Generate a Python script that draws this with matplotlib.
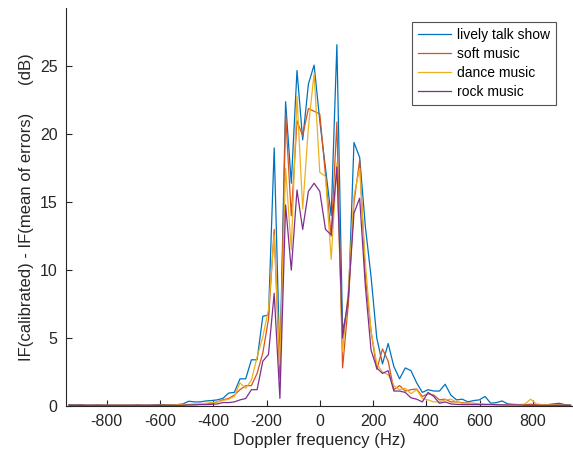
import numpy as np
import matplotlib
matplotlib.use("Agg")
import matplotlib.pyplot as plt

plt.rcParams['font.family'] = ['Liberation Sans', 'DejaVu Sans']
plt.rcParams['axes.unicode_minus'] = False

# Doppler bins (index k, spacing in Hz)
bin_index = np.arange(-44, 45)
bin_step_hz = 21.4
doppler_hz = bin_index * bin_step_hz

series_names = ["lively talk show", "soft music", "dance music", "rock music"]

lively_talk_show = [
    0.10, 0.08, 0.10, 0.05, 0.05, 0.08, 0.05, 0.05, 0.05, 0.05,
    0.05, 0.05, 0.08, 0.05, 0.05, 0.08, 0.10, 0.10,              # k=-44..-27
    0.10, 0.10, 0.15, 0.35, 0.30, 0.30, 0.37, 0.40, 0.45, 0.56,  # k=-26..-17
    0.95, 1.0, 2.0, 2.0, 3.4, 3.4, 6.6, 6.7,                     # k=-16..-9
    19.0, 3.0, 22.4, 16.4, 24.7, 19.6, 23.7, 25.1,               # k=-8..-1
    21.0, 17.5, 14.0, 26.6, 5.5, 7.5, 19.4, 18.3, 13.2, 9.5,     # k=0..9
    5.0, 3.1, 4.6, 2.9, 2.0, 2.8, 2.6, 1.7, 1.0, 1.2,            # k=10..19
    1.1, 1.1, 1.6, 0.8, 0.45, 0.5, 0.3, 0.4, 0.45, 0.7,          # k=20..29
    0.2, 0.25, 0.37, 0.15, 0.12, 0.10, 0.10, 0.12, 0.10, 0.10,   # k=30..39
    0.10, 0.15, 0.20, 0.10, 0.05,                                # k=40..44
]

soft_music = [
    0.05, 0.05, 0.05, 0.05, 0.05, 0.05, 0.05, 0.05, 0.05, 0.05,
    0.05, 0.05, 0.05, 0.05, 0.05, 0.05, 0.05, 0.05,              # k=-44..-27
    0.05, 0.05, 0.08, 0.08, 0.10, 0.12, 0.15, 0.20, 0.30, 0.45,  # k=-26..-17
    0.56, 0.8, 1.2, 1.5, 1.5, 2.4, 3.9, 6.4,                     # k=-16..-9
    13.0, 2.0, 21.5, 14.0, 21.0, 19.9, 21.9, 21.7,               # k=-8..-1
    21.5, 17.0, 12.5, 20.9, 2.8, 7.5, 15.0, 18.1, 9.5, 5.5,      # k=0..9
    2.7, 4.2, 3.3, 1.2, 1.5, 1.1, 1.2, 1.25, 0.7, 0.9,           # k=10..19
    0.8, 0.45, 0.5, 0.3, 0.3, 0.25, 0.2, 0.2, 0.15, 0.12,        # k=20..29
    0.12, 0.10, 0.10, 0.10, 0.10, 0.10, 0.10, 0.10, 0.10, 0.10,  # k=30..39
    0.10, 0.08, 0.08, 0.05, 0.05,                                # k=40..44
]

dance_music = [
    0.05, 0.05, 0.05, 0.05, 0.05, 0.05, 0.05, 0.05, 0.05, 0.05,
    0.05, 0.05, 0.05, 0.05, 0.05, 0.05, 0.05, 0.08,              # k=-44..-27
    0.08, 0.10, 0.10, 0.12, 0.15, 0.15, 0.20, 0.25, 0.30, 0.40,  # k=-26..-17
    0.5, 0.7, 1.7, 1.3, 1.9, 3.6, 5.1, 7.1,                      # k=-16..-9
    12.6, 3.0, 17.5, 11.5, 22.8, 14.5, 20.5, 24.5,               # k=-8..-1
    17.2, 16.9, 10.8, 17.9, 4.0, 8.5, 15.5, 17.5, 10.5, 5.5,     # k=0..9
    3.1, 2.5, 2.3, 1.5, 1.2, 1.3, 0.9, 1.2, 0.55, 0.45,          # k=10..19
    0.3, 0.3, 0.45, 0.5, 0.3, 0.2, 0.2, 0.15, 0.15, 0.12,        # k=20..29
    0.12, 0.10, 0.10, 0.10, 0.10, 0.10, 0.15, 0.5, 0.15, 0.10,   # k=30..39
    0.10, 0.08, 0.08, 0.05, 0.05,                                # k=40..44
]

rock_music = [
    0.05, 0.05, 0.05, 0.05, 0.05, 0.05, 0.05, 0.05, 0.05, 0.05,
    0.05, 0.05, 0.05, 0.05, 0.05, 0.05, 0.05, 0.05,              # k=-44..-27
    0.05, 0.05, 0.05, 0.08, 0.08, 0.10, 0.10, 0.12, 0.15, 0.25,  # k=-26..-17
    0.25, 0.3, 0.45, 0.55, 1.2, 1.2, 3.3, 3.8,                   # k=-16..-9
    8.3, 0.56, 14.8, 10.0, 15.9, 13.0, 15.8, 16.4,               # k=-8..-1
    15.8, 13.0, 12.6, 17.6, 5.0, 8.0, 14.2, 15.3, 8.8, 4.1,      # k=0..9
    2.8, 2.4, 2.6, 1.1, 1.1, 1.0, 0.6, 0.5, 0.3, 1.0,            # k=10..19
    0.7, 0.2, 0.3, 0.15, 0.12, 0.10, 0.10, 0.10, 0.10, 0.10,     # k=20..29
    0.10, 0.10, 0.08, 0.08, 0.08, 0.08, 0.05, 0.05, 0.05, 0.05,  # k=30..39
    0.05, 0.05, 0.05, 0.05, 0.05,                                # k=40..44
]

x_ticks = [-800, -600, -400, -200, 0, 200, 400, 600, 800]
y_ticks = [0, 5, 10, 15, 20, 25]

# MATLAB default line colours
colors = ['#0072BD', '#D95319', '#EDB120', '#7E2F8E']
axis_color = '#262626'

fig = plt.figure(figsize=(5.73, 4.59), dpi=100)
ax = fig.add_axes([0.1152, 0.1155, 0.883, 0.867])

all_series = [lively_talk_show, soft_music, dance_music, rock_music]
for name, values, col in zip(series_names, all_series, colors):
    ax.plot(doppler_hz, values, color=col, linewidth=0.9, label=name)

ax.set_xlim(-953, 947)
ax.set_ylim(0, 29.3)
ax.set_xticks(x_ticks)
ax.set_yticks(y_ticks)

ax.set_xlabel("Doppler frequency (Hz)", fontsize=12, color=axis_color, labelpad=3)
ax.set_ylabel("IF(calibrated) - IF(mean of errors)      (dB)", fontsize=12,
              color=axis_color, labelpad=4)

ax.tick_params(direction='in', length=4, width=0.8, colors=axis_color,
               labelsize=11.5, pad=6)
for side in ['top', 'right']:
    ax.spines[side].set_visible(False)
for side in ['left', 'bottom']:
    ax.spines[side].set_color(axis_color)
    ax.spines[side].set_linewidth(0.8)

leg = ax.legend(loc='upper right', bbox_to_anchor=(0.968, 0.965),
                fontsize=10, frameon=True, fancybox=False,
                edgecolor=axis_color, handlelength=2.4, handletextpad=0.45,
                borderpad=0.4, labelspacing=0.38, borderaxespad=0)
leg.get_frame().set_linewidth(0.8)

plt.savefig("out.png", dpi=100)
